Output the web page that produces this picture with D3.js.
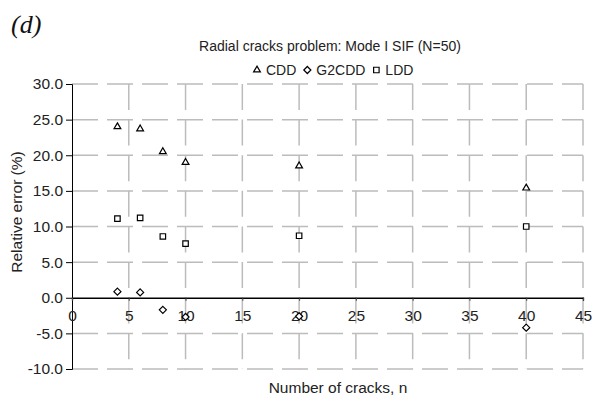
<!DOCTYPE html>
<html>
<head>
<meta charset="utf-8">
<script src="https://cdn.jsdelivr.net/npm/d3@7"></script>
<style>
  body { margin: 0; background: #fff; }
  svg { display: block; font-family: "Liberation Sans", Arial, sans-serif; }
</style>
</head>
<body>
<svg id="svg" width="593" height="399"></svg>
<script>
// values
const crackCounts = [4, 6, 8, 10, 20, 40];
const cddErr = [24.0, 23.7, 20.5, 19.0, 18.5, 15.4];
const g2cddErr = [0.85, 0.75, -1.7, -2.7, -2.6, -4.2];
const lddErr = [11.1, 11.2, 8.6, 7.6, 8.7, 10.0];
const seriesNames = ["CDD", "G2CDD", "LDD"];
const xTicks = d3.range(0, 46, 5);
const yTicks = d3.range(-10, 31, 5);

const svg = d3.select("#svg");
const plotL = 72, plotR = 583, plotT = 84, plotB = 369;

const x = d3.scaleLinear([0, 45], [plotL, plotR]);
const y = d3.scaleLinear([-10, 30], [plotB, plotT]);

// small open markers, like the excel ones
const diamond = { draw(ctx, size) { const r = Math.sqrt(size) / 2; ctx.moveTo(0, -r); ctx.lineTo(r, 0); ctx.lineTo(0, r); ctx.lineTo(-r, 0); ctx.closePath(); } };
const markers = [d3.symbol(d3.symbolTriangle, 20), d3.symbol(diamond, 50), d3.symbol(d3.symbolSquare, 30)];

// grid
const grid = svg.append("g").attr("stroke", "#bcbcbc").attr("stroke-width", 1.5);
grid.selectAll("line.h").data(yTicks.filter(v => v !== 0)).join("line")
	.attr("class", "h")
	.attr("x1", plotL).attr("x2", plotR)
	.attr("y1", d => y(d)).attr("y2", d => y(d))
	.attr("stroke-dasharray", "26,9");
grid.selectAll("line.v").data(xTicks.filter(v => v !== 0)).join("line")
	.attr("class", "v")
	.attr("x1", d => x(d)).attr("x2", d => x(d))
	.attr("y1", plotT).attr("y2", plotB)
	.attr("stroke-dasharray", "26,9.6");

// y axis
const yAxis = svg.append("g").attr("transform", `translate(${plotL},0)`)
	.call(d3.axisLeft(y).tickValues(yTicks).tickFormat(d => d.toFixed(1)).tickSizeOuter(0).tickSize(6).tickPadding(3));
yAxis.select(".domain").attr("stroke", "#000");
yAxis.selectAll("text").attr("font-size", 15.5).attr("fill", "#222").attr("font-family", "Liberation Sans, Arial");
yAxis.selectAll("line").attr("stroke", "#000");

// x axis along zero
const xAxis = svg.append("g").attr("transform", `translate(0,${y(0)})`)
	.call(d3.axisBottom(x).tickValues(xTicks).tickSizeOuter(0).tickSize(3).tickPadding(9));
xAxis.select(".domain").attr("stroke", "#000").attr("stroke-width", 1.3);
xAxis.selectAll("line").attr("stroke", "#444");
xAxis.selectAll("text").attr("font-size", 15.5).attr("fill", "#222").attr("font-family", "Liberation Sans, Arial");

// markers
const allSeries = [cddErr, g2cddErr, lddErr];
allSeries.forEach((vals, i) => {
	svg.append("g").selectAll("path").data(vals).join("path")
		.attr("d", markers[i])
		.attr("transform", (d, j) => `translate(${x(crackCounts[j])},${y(d)})`)
		.attr("fill", "#fff").attr("stroke", "#000").attr("stroke-width", 1.2);
});

// title and legend
svg.append("text").attr("x", 330).attr("y", 51).attr("text-anchor", "middle")
	.attr("font-size", 14).attr("fill", "#222")
	.text("Radial cracks problem: Mode I SIF (N=50)");

const legend = svg.append("g").attr("transform", "translate(257,75)");
let lx = 0;
seriesNames.forEach((name, i) => {
	legend.append("path").attr("d", markers[i])
		.attr("transform", `translate(${lx},-5)`)
		.attr("fill", "#fff").attr("stroke", "#000").attr("stroke-width", 1.2);
	const t = legend.append("text").attr("x", lx + 9).attr("y", 0).attr("font-size", 14).attr("fill", "#222").text(name);
	lx += 9 + t.node().getComputedTextLength() + 11;
});

// axis titles
svg.append("text").attr("x", 338).attr("y", 393).attr("text-anchor", "middle")
	.attr("font-size", 15.5).attr("fill", "#222").text("Number of cracks, n");
svg.append("text").attr("transform", "translate(22,212) rotate(-90)").attr("text-anchor", "middle")
	.attr("font-size", 15.5).attr("fill", "#222").text("Relative error (%)");

// panel label
svg.append("text").attr("x", 11).attr("y", 33)
	.attr("font-family", "Liberation Serif, Times New Roman, serif").attr("font-style", "italic")
	.attr("font-size", 26).attr("fill", "#111").text("(d)");
</script>
</body>
</html>
